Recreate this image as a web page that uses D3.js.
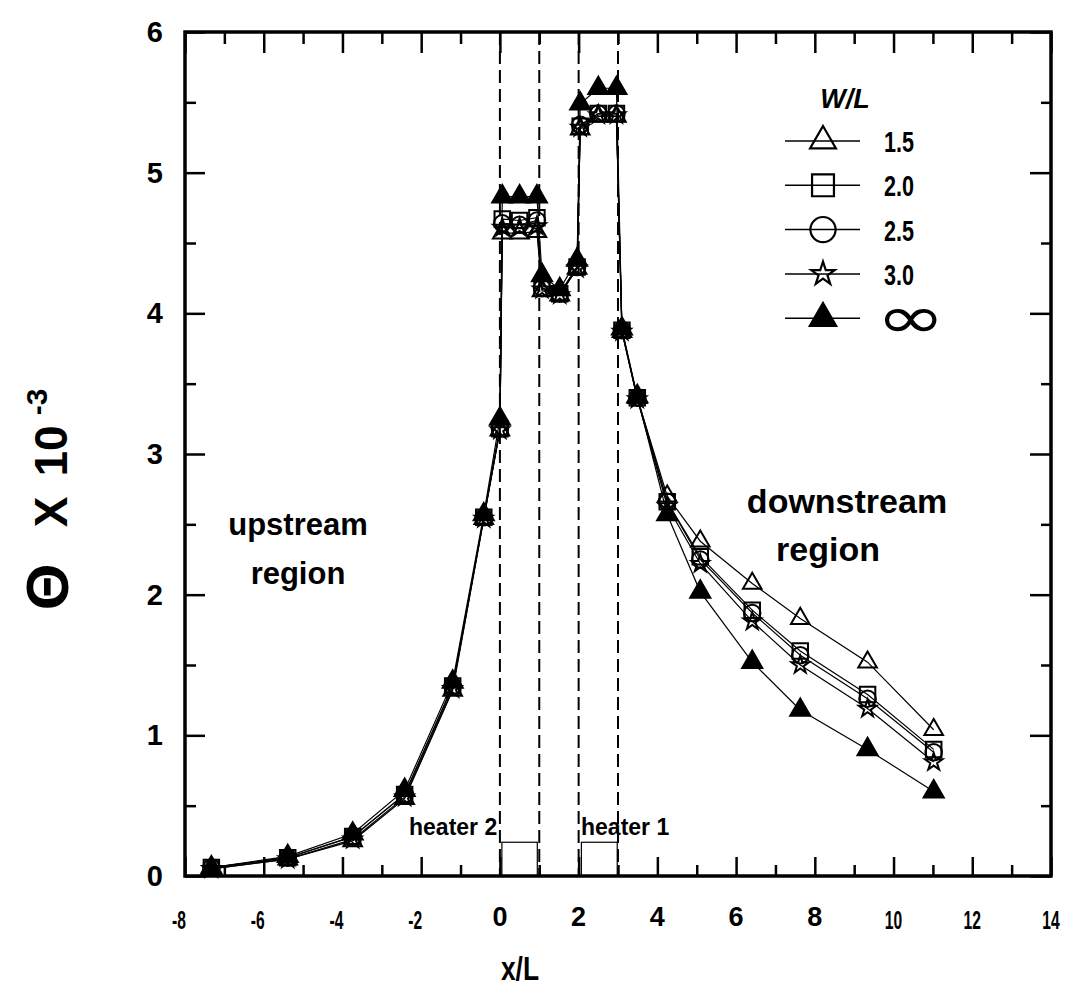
<!DOCTYPE html>
<html>
<head>
<meta charset="utf-8">
<script src="https://cdn.jsdelivr.net/npm/d3@7"></script>
<style>
  html, body { margin: 0; padding: 0; background: #fff; }
  svg { display: block; }
</style>
</head>
<body>
<svg id="chart" width="1071" height="994"></svg>
<script>
// ---------------- data ----------------
const xPos = [-7.33, -5.39, -3.74, -2.42, -1.2, -0.41, 0, 0.06, 0.5, 0.94, 1.07, 1.52, 1.96, 2.04, 2.5, 2.96, 3.1, 3.49, 4.25, 5.09, 6.41, 7.63, 9.34, 11.02];
const seriesNames = ["1.5", "2.0", "2.5", "3.0", "∞"];
const theta15  = [0.05, 0.12, 0.25, 0.55, 1.32, 2.54, 3.17, 4.57, 4.57, 4.58, 4.16, 4.13, 4.32, 5.31, 5.40, 5.40, 3.87, 3.40, 2.70, 2.38, 2.08, 1.83, 1.52, 1.04];
const theta20  = [0.06, 0.13, 0.28, 0.58, 1.35, 2.55, 3.18, 4.67, 4.66, 4.68, 4.18, 4.14, 4.33, 5.33, 5.42, 5.42, 3.88, 3.40, 2.66, 2.27, 1.89, 1.60, 1.29, 0.90];
const theta25  = [0.06, 0.13, 0.28, 0.58, 1.35, 2.55, 3.18, 4.64, 4.63, 4.66, 4.18, 4.14, 4.33, 5.34, 5.42, 5.42, 3.88, 3.40, 2.66, 2.25, 1.87, 1.57, 1.26, 0.88];
const theta30  = [0.05, 0.12, 0.26, 0.56, 1.33, 2.54, 3.17, 4.61, 4.61, 4.62, 4.17, 4.13, 4.32, 5.32, 5.41, 5.41, 3.87, 3.39, 2.63, 2.22, 1.81, 1.50, 1.19, 0.81];
const thetaInf = [0.06, 0.14, 0.30, 0.61, 1.38, 2.57, 3.25, 4.83, 4.83, 4.83, 4.27, 4.17, 4.38, 5.49, 5.60, 5.60, 3.89, 3.41, 2.57, 2.02, 1.52, 1.18, 0.90, 0.60];
const xTicks = [-8, -6, -4, -2, 0, 2, 4, 6, 8, 10, 12, 14];
const yTicks = [0, 1, 2, 3, 4, 5, 6];
const heaterEdges = [0, 1, 2, 3];
const heaterNames = ["heater 2", "heater 1"];
const heaterX0 = [0.05, 2.07];
const heaterX1 = [0.95, 2.98];
const heaterHeight = 0.24;

// ---------------- layout ----------------
const svg = d3.select("#chart");
const L = 185, R = 1051, T = 32, B = 876;
const x = d3.scaleLinear().domain([-8, 14]).range([L, R]);
const y = d3.scaleLinear().domain([0, 6]).range([B, T]);
const FONT = "'Liberation Sans', Arial, Helvetica, sans-serif";

svg.append("rect").attr("width", 1071).attr("height", 994).attr("fill", "#fff");

// heater dashed lines
svg.append("g").selectAll("line").data(heaterEdges).join("line")
  .attr("x1", d => x(d)).attr("x2", d => x(d))
  .attr("y1", y(6)).attr("y2", y(0))
  .attr("stroke", "#000").attr("stroke-width", 2)
  .attr("stroke-dasharray", "13,6");

// heater boxes
const hb = svg.append("g");
heaterNames.forEach((n, i) => {
  hb.append("rect")
    .attr("x", x(heaterX0[i])).attr("y", y(heaterHeight))
    .attr("width", x(heaterX1[i]) - x(heaterX0[i]))
    .attr("height", y(0) - y(heaterHeight))
    .attr("fill", "none").attr("stroke", "#000").attr("stroke-width", 1.2);
});
svg.append("text").attr("x", 409).attr("y", 835)
  .attr("font-family", FONT).attr("font-weight", "bold").attr("font-size", 23)
  .text(heaterNames[0]);
svg.append("text").attr("x", 581).attr("y", 835)
  .attr("font-family", FONT).attr("font-weight", "bold").attr("font-size", 23)
  .text(heaterNames[1]);

// axes (ticks inward on all four sides)
const minorX = d3.range(-7, 14, 2);
const minorY = d3.range(0.5, 6, 1);
const axG = svg.append("g");
axG.append("g").attr("transform", `translate(0,${B})`)
  .call(d3.axisBottom(x).tickValues(xTicks).tickSize(-19).tickFormat(""));
axG.append("g").attr("transform", `translate(0,${B})`)
  .call(d3.axisBottom(x).tickValues(minorX).tickSize(-11).tickFormat(""));
axG.append("g").attr("transform", `translate(0,${T})`)
  .call(d3.axisTop(x).tickValues(xTicks).tickSize(-21).tickFormat(""));
axG.append("g").attr("transform", `translate(0,${T})`)
  .call(d3.axisTop(x).tickValues(minorX).tickSize(-12).tickFormat(""));
axG.append("g").attr("transform", `translate(${L},0)`)
  .call(d3.axisLeft(y).tickValues(yTicks).tickSize(-20).tickFormat(""));
axG.append("g").attr("transform", `translate(${L},0)`)
  .call(d3.axisLeft(y).tickValues(minorY).tickSize(-11).tickFormat(""));
axG.append("g").attr("transform", `translate(${R},0)`)
  .call(d3.axisRight(y).tickValues(yTicks).tickSize(-21).tickFormat(""));
axG.append("g").attr("transform", `translate(${R},0)`)
  .call(d3.axisRight(y).tickValues(minorY).tickSize(-10).tickFormat(""));
axG.selectAll(".domain").remove();
axG.selectAll(".tick line").attr("stroke", "#000").attr("stroke-width", 2.5);

svg.append("rect").attr("x", L).attr("y", T).attr("width", R - L).attr("height", B - T)
  .attr("fill", "none").attr("stroke", "#000").attr("stroke-width", 3.5);

// tick labels
svg.append("g").selectAll("text").data(yTicks).join("text")
  .attr("x", 163).attr("y", d => y(d) + 10)
  .attr("text-anchor", "end")
  .attr("font-family", FONT).attr("font-weight", "bold").attr("font-size", 29)
  .text(d => d);
const bigX = d => d >= 0 && d <= 8;
svg.append("g").selectAll("text").data(xTicks).join("text")
  .attr("transform", d => `translate(${x(d) - (d < 0 ? 6 : 0)},${bigX(d) ? 926 : 929}) scale(${bigX(d) ? 1 : 0.6},1)`)
  .attr("text-anchor", "middle")
  .attr("font-family", FONT).attr("font-weight", "bold")
  .attr("font-size", d => bigX(d) ? 27 : 26)
  .text(d => d);

// axis titles
svg.append("text")
  .attr("transform", `translate(520,980) scale(0.8,1)`)
  .attr("text-anchor", "middle")
  .attr("font-family", FONT).attr("font-weight", "bold").attr("font-size", 33)
  .text("x/L");
const yl = svg.append("text")
  .attr("transform", "translate(67,0) rotate(-90)")
  .attr("text-anchor", "middle")
  .attr("font-family", FONT).attr("font-weight", "bold").attr("font-size", 46);
yl.append("tspan").attr("x", -587).attr("y", 1).attr("font-size", 60).text("Θ");
yl.append("tspan").attr("x", -512).attr("y", 0).text("X");
yl.append("tspan").attr("x", -451).attr("y", 0).text("10");
yl.append("tspan").attr("x", -402).attr("y", -20).attr("font-size", 30).text("-3");

// region labels
const regionText = (lines, xs, y0, dy, fs) => {
  const t = svg.append("text").attr("text-anchor", "middle")
    .attr("font-family", FONT).attr("font-weight", "bold").attr("font-size", fs);
  lines.forEach((s, i) => t.append("tspan").attr("x", xs[i]).attr("y", y0 + i * dy).text(s));
};
regionText(["upstream", "region"], [298, 298], 535, 49, 31);
regionText(["downstream", "region"], [847, 828], 513, 48, 34);

// series
const series = [theta15, theta20, theta25, theta30, thetaInf].map((vals, i) => ({
  name: seriesNames[i],
  pts: xPos.map((xx, j) => ({ x: xx, y: vals[j] }))
}));
const symTypes = [d3.symbolTriangle, d3.symbolSquare, d3.symbolCircle, d3.symbolStar, d3.symbolTriangle];
const symSizes = [150, 240, 215, 95, 175];
const legendSizes = [290, 480, 500, 170, 300];
const symFill = ["none", "none", "none", "none", "#000"];

const line = d3.line().x(d => x(d.x)).y(d => y(d.y));
svg.append("g").selectAll("path").data(series).join("path")
  .attr("d", d => line(d.pts))
  .attr("fill", "none").attr("stroke", "#000").attr("stroke-width", 1.2);

series.forEach((s, i) => {
  svg.append("g").selectAll("path").data(s.pts).join("path")
    .attr("transform", d => `translate(${x(d.x)},${y(d.y)})`)
    .attr("d", d3.symbol().type(symTypes[i]).size(symSizes[i])())
    .attr("fill", symFill[i]).attr("stroke", "#000").attr("stroke-width", 2);
});

// legend
const lg = svg.append("g");
lg.append("text").attr("x", 845).attr("y", 108).attr("text-anchor", "middle")
  .attr("font-family", FONT).attr("font-weight", "bold").attr("font-style", "italic")
  .attr("font-size", 27).text("W/L");
series.forEach((s, i) => {
  const yy = 141 + i * 44.3;
  lg.append("line").attr("x1", 785).attr("x2", 860).attr("y1", yy).attr("y2", yy)
    .attr("stroke", "#000").attr("stroke-width", 1.5);
  lg.append("path").attr("transform", `translate(823,${yy})`)
    .attr("d", d3.symbol().type(symTypes[i]).size(legendSizes[i])())
    .attr("fill", symFill[i]).attr("stroke", "#000").attr("stroke-width", 2.2);
  if (i < 4) {
    lg.append("text").attr("transform", `translate(884,${yy + 11}) scale(0.72,1)`)
      .attr("font-family", FONT).attr("font-weight", "bold").attr("font-size", 30)
      .text(s.name);
  } else {
    lg.append("text").attr("transform", `translate(911,${yy + 20}) scale(1.6,1.15)`)
      .attr("text-anchor", "middle")
      .attr("font-family", "'DejaVu Sans', sans-serif").attr("font-size", 52)
      .text(s.name);
  }
});
</script>
</body>
</html>
